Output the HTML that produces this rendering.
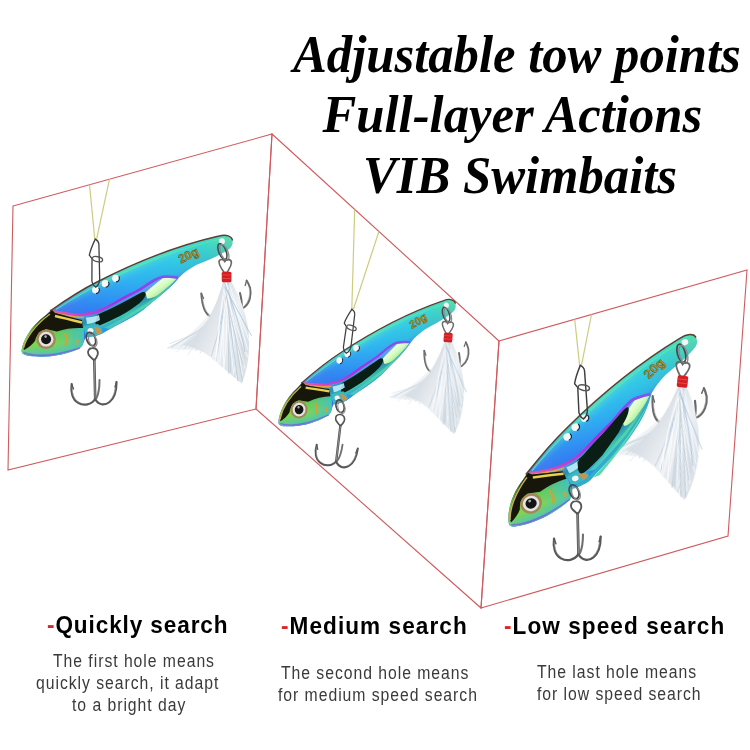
<!DOCTYPE html>
<html>
<head>
<meta charset="utf-8">
<style>
html,body{margin:0;padding:0;background:#fff;}
body{width:750px;height:750px;position:relative;overflow:hidden;}
.t{position:absolute;white-space:nowrap;font-family:"Liberation Serif",serif;font-style:italic;font-weight:bold;font-size:50.7px;line-height:1;color:#000;transform-origin:0 0;transform:scaleY(1.06);}
.h{position:absolute;white-space:nowrap;font-family:"Liberation Sans",sans-serif;font-weight:bold;font-size:24px;letter-spacing:1.14px;line-height:1;color:#000;transform-origin:0 0;transform:scaleX(0.94);}
.h b{color:#d8262a;}
.p{position:absolute;white-space:nowrap;font-family:"Liberation Sans",sans-serif;font-size:17.5px;letter-spacing:1.07px;line-height:1;color:#3a3a3a;transform-origin:0 0;transform:scaleX(0.9);}
svg{position:absolute;left:0;top:0;}
</style>
</head>
<body>
<svg width="750" height="750" viewBox="0 0 750 750">
<defs>

<g id="body">
  <!-- silhouette -->
  <path d="M21.6,351 C22,343 30,326 46,315 C48,313 50,311.5 52,310 C70,297 85,288 97,282 C130,265 175,246 219,236 C226,234 232,236 232.5,240.5 C233,245 231.5,247.5 228.5,249.5 C223,253.5 210,259.5 196,265 C190,268.5 184,272 179,277.5 C174,284 166,291 159,296.7 C152,302 148,306 143,310 C136,315 130,318.5 123,322 C115,326 108,330 103,333 C99,335.5 92,336.5 86,337 C84,340 83.5,344 82,346 C78,350 70,352.5 60,354.8 C50,357 38,357 30,356 C25,355.5 21.5,354 21.6,351 Z" fill="url(#gBody)"/>
  <!-- cross overlay: green near back edge -->
  <path d="M52,310 C70,297 85,288 97,282 C130,265 175,246 219,236 C226,234 232,236 232.5,240.5 C233,245 231.5,247.5 228.5,249.5 C223,253.5 210,259.5 196,265 C190,268.5 184,272 179,277.5 L178,277.6 C173,277 168,276.2 162.7,276.7 C160,277 157.5,278.5 154.7,280 C150,282.5 146,285.5 140,289.3 C134,293 127,296 120,300 C114,303.5 107,307.5 100,310.7 C94,313 88,314.4 80,314.7 C72,315 62,313 50,310.8 Z" fill="url(#gCross)"/>
  <!-- keel -->
  <path d="M50,310.8 C62,313 72,315 80,314.7 C88,314.4 94,313 100,310.7 C107,307.5 114,303.5 120,300 C127,296 134,293 140,289.3 C146,285.5 150,282.5 154.7,280 C157.5,278.5 160,277 162.7,276.7 C168,276.2 173,277 178,277.6 L179,277.5 C174,284 166,291 159,296.7 C152,302 148,306 143,310 C136,315 130,318.5 123,322 C115,326 108,330 103,333 C99,335.5 92,336.5 86,337 L82,320 Z" fill="url(#gKeel)"/>
  <path d="M97,315 C105,311.5 112,308 120,304 C127,300.5 134,296.5 140,293.3 C142.5,292 144.5,291.5 145.5,293 C146.5,295 144,299 140,302.7 C134,307.5 127,312 120,316 C113,319.5 106,323 100,325.3 C97,326.5 95,325 95.5,322 Z" fill="#0a1e16"/>
  <path d="M145.5,292.5 C150,288.5 156,283.5 162.7,278.3 C168,277.3 173,277.8 177,278.3 C172,284 165,290 158,295 C154,297.5 150,299 147,298.5 Z" fill="url(#gHi)"/>
  <path d="M104,328 C125,318 148,304 172,284 L176,280.5 C160,298 140,312 110,329 Z" fill="#60e0a8" opacity="0.6"/>
  <path d="M86,317.5 C90,317.5 95,316.5 99,315 L100,320 C96,322 92,323.5 87,324 Z" fill="#c8f6ff" opacity="0.85"/>
  <path d="M84,326 L98,324 C101,327 103,331 103,333 C99,335.5 92,336.5 86,337 Z" fill="#3ab8c8"/>
  <ellipse cx="90.5" cy="330.5" rx="3" ry="2.6" fill="#f4f4f4"/>
  <path d="M94,327 C98,326 101,329 102,333 L97,335 Z" fill="#d89040" opacity="0.85"/>
  <!-- band (orange/purple) -->
  <path d="M50,310.8 C62,313 72,315 80,314.7 C88,314.4 94,313 100,310.7 C107,307.5 114,303.5 120,300 C127,296 134,293 140,289.3 C146,285.5 150,282.5 154.7,280 C157.5,278.5 160,277 162.7,276.7 C168,276.2 173,277 178,277.6" fill="none" stroke="url(#gBand)" stroke-width="2.6"/>
  <path d="M54,313.2 C64,315 74,317.5 84,317.5" fill="none" stroke="#f0a030" stroke-width="1.6" opacity="0.9"/>
  <!-- head -->
  <path d="M21.6,351 C22,343 30,326 46,315 C48,313 50,311.5 52,310 L55,313 C64,315.5 74,318 82,320 L84,330 C84,336 84,342 82,346 C78,350 70,352.5 60,354.8 C50,357 38,357 30,356 C25,355.5 21.5,354 21.6,351 Z" fill="url(#gHead)"/>
  <path d="M52,310 L55,313 C64,315.5 74,318 82,320 L84,330 C84,336 84,342 82,346 C78,350 70,352.5 55,356 Z" fill="url(#gHeadX)"/>
  <path d="M23.5,348 C26,337 35,324 48,314 L52,310 L55,313 C64,315.5 74,318 82,320 L83,328 C75,327.5 65,328.5 57,331.5 L46,329 C40,331 36,336 35,341 C32,345 28,348 24,350 Z" fill="#16160a"/>
  <path d="M23.5,352.5 C35,357 55,356 80,348" fill="none" stroke="#7a60e0" stroke-width="1.5" opacity="0.8"/>
  <path d="M23.5,348 C26,338 35,325 50,314" fill="none" stroke="#c8b050" stroke-width="1.4"/>
  <path d="M55,316 C64,318 74,320.5 82,322.5" fill="none" stroke="#e8d050" stroke-width="2.6"/>
  <path d="M65,333 C67,337 67,342 65,346" fill="none" stroke="#d8a030" stroke-width="2"/>
  <path d="M77,339 C78,341 78,343 77,345" fill="none" stroke="#d8a030" stroke-width="1.8"/>
  <circle cx="46.1" cy="339.2" r="9.8" fill="#a08858"/>
  <circle cx="46.1" cy="339.2" r="7.4" fill="#e6e4e0"/>
  <circle cx="46.1" cy="339.2" r="5" fill="#141414"/>
  <circle cx="45.6" cy="336.6" r="1.3" fill="#aaa"/>
  <!-- back edge -->
  <path d="M50,311 C70,297 85,288 97,282 C130,265 175,246 219,236 C226,234 232,236 232.5,240.5" fill="none" stroke="#5a4032" stroke-width="1.4"/>
  <path d="M56,309.5 C72,299 86,291 98,285 C130,268 175,249.5 219,239.5" fill="none" stroke="#60e8a0" stroke-width="1.2" opacity="0.8"/>
  <!-- holes -->
  <g fill="#f6f6f6">
    <circle cx="95.7" cy="290" r="3.6"/>
    <circle cx="105.3" cy="283.7" r="3.6"/>
    <circle cx="115.7" cy="278.3" r="3.6"/>
  </g>
  <g fill="none" stroke="#14283a" stroke-width="1.1">
    <path d="M98.8,288 A3.6,3.6 0 0 1 96,293.6"/>
    <path d="M108.4,281.7 A3.6,3.6 0 0 1 105.6,287.3"/>
    <path d="M118.8,276.3 A3.6,3.6 0 0 1 116,281.9"/>
  </g>
  <!-- tail hole -->
  <circle cx="221.9" cy="241.2" r="3" fill="#f4f4f4"/>
  <!-- 20g -->
  <text x="0" y="0" transform="translate(181,263.5) rotate(-26)" font-family="Liberation Sans" font-weight="bold" font-size="12" fill="#b89a30" stroke="#6a5010" stroke-width="0.5" letter-spacing="0.1">20g</text>
</g>


<g id="keel3ext">
  <path d="M179,277.5 C174,286 168,294 161,300 C154,306 149,310.5 143,314.5 C136,319 130,322 123,325.5 C115,330 108,334 103,337 C99,339 92,339.5 86,339.5 L86,330 L140,300 Z" fill="#30b0c8"/>
  <path d="M106,335.5 C125,325 148,310 174,285.5 L176.5,282 C162,300 142,316 112,335.5 Z" fill="#5ad8b0"/>
</g>
<g id="keel3dark">
  <path d="M97,316.5 C105,311 112,306.5 120,302 C130,296.5 140,290 149,284.5 C152,282.5 154.5,281.5 155.5,282.5 C156,285 153,289.5 149,293.5 C141,301.5 131,310 120,318 C113,322 106,325.5 100,328 C97,329 95,327.5 95.5,323.5 Z" fill="#0a1e16"/>
</g>


<g id="front" fill="none" stroke-linecap="round">
  <ellipse cx="-1.5" cy="-15" rx="4.3" ry="7" stroke="#4a4a4a" stroke-width="1.8" transform="rotate(-22 -1.5 -15)"/>
  <ellipse cx="0.3" cy="-13.5" rx="3.8" ry="6.3" stroke="#8a8a8a" stroke-width="1.2" transform="rotate(-22 0.3 -13.5)"/>
  <path d="M0,-6 C4,-6.2 6,-3 5.2,0.5 C4.5,3 3,5 1.8,6.5 C0.5,5 -2.5,3 -4,0.5 C-5.5,-3 -3.5,-6 0,-6 Z" stroke="#555" stroke-width="1.8"/>
  <path d="M1.8,6 L2.7,45" stroke="#555" stroke-width="2.6"/>
  <path d="M1.9,7 L2.6,44" stroke="#a8a8a8" stroke-width="0.7"/>
  <path d="M2.6,45 C-1,51 -9,52 -14,49 C-20,46 -22,38 -20.8,30" stroke="#585858" stroke-width="2.2"/>
  <path d="M2.6,45 C6,51 12,52 17,48 C22,44 24,36 24,28" stroke="#585858" stroke-width="2.2"/>
  <path d="M-13.5,48.2 C-19,45.5 -21,38 -20,31" stroke="#b0b0b0" stroke-width="0.6"/>
  <path d="M16.5,47.3 C21,43.5 23,36 23.2,29" stroke="#b0b0b0" stroke-width="0.6"/>
  <path d="M4,44 C6,40 7,34 7,26" stroke="#707070" stroke-width="2"/>
  <path d="M-20.8,30 L-19,35" stroke="#585858" stroke-width="1.4"/>
  <path d="M24,28 L22.5,33" stroke="#585858" stroke-width="1.4"/>
</g>


<g id="rear" stroke-linecap="round">
  <!-- hooks (behind feather) -->
  <g fill="none" stroke="#6a6a6a" stroke-width="2">
    <path d="M-2,37 C-6,40 -12,41 -16,39.5 C-22,37 -24.5,28 -25.3,16.5"/>
    <path d="M2,35 C8,34 14,33 18,30 C23,26 25,18 23.5,11 C22.5,8 21.5,5.5 20,3.5"/>
    <path d="M13.4,16 C15,22 15.5,27 15,31"/>
    <path d="M0.5,5 L0,37"/>
  </g>
  <g fill="none" stroke="#b8b8b8" stroke-width="0.6">
    <path d="M-15.5,38.5 C-21,36 -23.5,28 -24.3,17"/>
    <path d="M17.5,29 C22,25 24,18 22.6,11"/>
  </g>
  <path d="M-25.3,16.5 L-23,21.5" stroke="#6a6a6a" stroke-width="1.3"/>
  <path d="M20,3.5 L18.6,8.5" stroke="#6a6a6a" stroke-width="1.3"/>
  <g filter="url(#soft)">
  <!-- feather wisps -->
  <path d="M-10,28 C-22,44 -38,60 -58,72 C-46,73 -34,72 -22,74 C-18,62 -12,46 -6,34 Z" fill="#e6ebef" opacity="0.6"/>
  <g stroke-width="0.8" fill="none" opacity="0.95">
    <path d="M-8.4,43.8 Q-34.4,57.5 -58.8,71.2" stroke="#c4d2de"/>
    <path d="M-5.8,44.5 Q-27.7,55.5 -56.7,66.6" stroke="#d4dde4"/>
    <path d="M-8.7,39.3 Q-28.9,54.8 -55.3,70.3" stroke="#c4d2de"/>
    <path d="M-3.9,24.9 Q-22.5,49.8 -50.1,74.8" stroke="#e2e8ed"/>
    <path d="M-5.9,28.9 Q-20.1,49.2 -46.3,69.5" stroke="#d4dde4"/>
    <path d="M-8.5,35.1 Q-24.1,53.7 -42.9,72.3" stroke="#c4d2de"/>
    <path d="M-2.4,29.1 Q-21.8,53.4 -38.9,77.7" stroke="#e2e8ed"/>
    <path d="M-6.1,44.6 Q-20.6,58.1 -38.6,71.5" stroke="#d4dde4"/>
    <path d="M-9.3,36.5 Q-17.6,56.5 -34.5,76.5" stroke="#ffffff"/>
    <path d="M-8.6,39.7 Q-21.0,56.6 -30.8,73.5" stroke="#c4d2de"/>
    <path d="M-6.3,38.6 Q-12.6,57.4 -26.6,76.3" stroke="#d4dde4"/>
    <path d="M-8.8,42.6 Q-15.6,56.6 -28.1,70.7" stroke="#e2e8ed"/>
    <path d="M-2.5,23.9 Q-14.3,49.2 -22.5,74.4" stroke="#e2e8ed"/>
    <path d="M-9.2,38.7 Q-12.2,58.0 -18.2,77.3" stroke="#e2e8ed"/>
  </g>
  <!-- feather main -->
  <path d="M-3.5,4.5 C-6,14 -10,26 -16,38 C-22,50 -32,60 -44,68 C-34,70 -24,73 -14,82 C-4,90 6,99 15,106.5 C20,96 23,80 22.5,62 C22,42 14,20 4.5,4.5 Z" fill="url(#gFeather)"/>
  <g stroke-width="0.75" fill="none" opacity="0.95">
    <path d="M-0.2,10.3 Q-4.2,44.6 -15.1,78.9" stroke="#b8c8d4"/>
    <path d="M-0.2,11.7 Q-3.6,45.9 -11.2,80.0" stroke="#ffffff"/>
    <path d="M0.7,11.1 Q-5.9,47.3 -9.9,83.4" stroke="#9fc0dc"/>
    <path d="M-0.6,8.5 Q-9.2,47.2 -10.9,85.8" stroke="#ffffff"/>
    <path d="M-2.0,6.9 Q-9.0,46.9 -9.0,87.0" stroke="#ffffff"/>
    <path d="M1.4,9.5 Q-4.5,48.0 -6.9,86.5" stroke="#ffffff"/>
    <path d="M-0.4,9.7 Q1.9,51.1 -2.9,92.6" stroke="#ffffff"/>
    <path d="M-0.5,9.3 Q-5.2,49.9 -2.7,90.5" stroke="#ffffff"/>
    <path d="M1.7,5.9 Q1.2,51.2 2.2,96.5" stroke="#b8c8d4"/>
    <path d="M2.5,8.5 Q2.8,51.6 3.9,94.8" stroke="#b8c8d4"/>
    <path d="M0.5,11.2 Q7.3,52.7 8.2,94.3" stroke="#ffffff"/>
    <path d="M-1.0,7.9 Q5.7,52.6 9.4,97.3" stroke="#9fc0dc"/>
    <path d="M-0.4,6.6 Q0.7,52.3 7.1,97.9" stroke="#ffffff"/>
    <path d="M-1.2,6.6 Q7.0,55.2 10.0,103.7" stroke="#ffffff"/>
    <path d="M-1.5,7.0 Q4.2,55.4 11.2,103.9" stroke="#b8c8d4"/>
    <path d="M-0.5,9.0 Q9.2,56.6 15.8,104.2" stroke="#b8c8d4"/>
    <path d="M0.3,9.3 Q7.8,53.6 16.0,98.0" stroke="#ffffff"/>
    <path d="M2.3,11.7 Q7.2,53.0 13.8,94.4" stroke="#c8d2da"/>
    <path d="M-0.3,5.7 Q5.4,48.5 18.2,91.4" stroke="#ffffff"/>
    <path d="M-2.1,6.5 Q4.2,47.2 16.7,87.9" stroke="#b8c8d4"/>
    <path d="M0.8,5.7 Q6.7,43.8 18.2,81.8" stroke="#c8d2da"/>
    <path d="M-1.9,7.5 Q6.1,43.7 21.0,79.8" stroke="#ffffff"/>
    <path d="M-1.4,7.6 Q12.1,41.1 18.4,74.6" stroke="#9fc0dc"/>
    <path d="M0.8,8.3 Q13.6,40.2 20.8,72.1" stroke="#ffffff"/>
    <path d="M3.0,8.3 Q11.3,36.2 22.7,64.1" stroke="#ffffff"/>
    <path d="M-1.7,10.2 Q11.4,34.5 24.9,58.7" stroke="#9fc0dc"/>
  </g>
  </g>
</g>


<g id="rearf" stroke-linecap="round">
  <!-- ring & eye -->
  <ellipse cx="-4.2" cy="-25.5" rx="3.6" ry="8.4" fill="none" stroke="#4a4a4a" stroke-width="1.6" transform="rotate(-22 -4.2 -25.5)"/>
  <ellipse cx="-2.2" cy="-24.6" rx="3.6" ry="8.4" fill="none" stroke="#8a8a8a" stroke-width="1.3" transform="rotate(-22 -2.2 -24.6)"/>
  <path d="M-7.5,-14.5 C-8,-18 -3.5,-18.5 -1.8,-15.5 C0,-18.5 5,-18 4.8,-14 C4.6,-10.5 2,-7.5 0.5,-4.5 L-2.5,-4.5 C-4.5,-7.5 -7.2,-11 -7.5,-14.5 Z" fill="none" stroke="#6a6a6a" stroke-width="1.6"/>
  <!-- red wrap -->
  <rect x="-4.8" y="-5.3" width="9.6" height="10.6" rx="1.5" fill="#d21f24"/>
  <path d="M-4.5,-2 L4.5,-2 M-4.5,1.5 L4.5,1.5" stroke="#f04848" stroke-width="0.8"/>
</g>


<g id="snap" fill="none" stroke="#3e3e3e" stroke-width="1.3" stroke-linecap="round" stroke-linejoin="round">
  <path d="M0,0 C-2,4 -5,11 -6,15.6 L-3.3,19 L-3.4,41 C-2.5,44 -1,46 0.5,46.5"/>
  <path d="M0,0 C2,1 3.4,3 3.6,5 L4.4,39.4 C4,43 2.5,45.5 0.5,46.5"/>
  <ellipse cx="2.2" cy="19.5" rx="5.2" ry="2.4" transform="rotate(12 2.2 19.5)" stroke="#555"/>
</g>

</defs>

<defs>
  <filter id="soft" x="-20%" y="-20%" width="140%" height="140%"><feGaussianBlur stdDeviation="0.28"/></filter>
  <linearGradient id="gFeather" gradientUnits="userSpaceOnUse" x1="-20" y1="40" x2="22" y2="60">
    <stop offset="0" stop-color="#d8dfe5"/>
    <stop offset="0.5" stop-color="#eef1f4"/>
    <stop offset="1" stop-color="#dbe2e8"/>
  </linearGradient>
  <linearGradient id="gBody" gradientUnits="userSpaceOnUse" x1="50" y1="320" x2="232" y2="245">
    <stop offset="0" stop-color="#4a5cf0"/>
    <stop offset="0.2" stop-color="#2f80f2"/>
    <stop offset="0.45" stop-color="#2caef2"/>
    <stop offset="0.7" stop-color="#30cce2"/>
    <stop offset="0.86" stop-color="#3ad8c4"/>
    <stop offset="1" stop-color="#5ae6a4"/>
  </linearGradient>
  <linearGradient id="gCross" gradientUnits="userSpaceOnUse" x1="130" y1="268" x2="142" y2="295">
    <stop offset="0" stop-color="#58e8c8" stop-opacity="0.75"/>
    <stop offset="0.35" stop-color="#40c8f0" stop-opacity="0.2"/>
    <stop offset="0.8" stop-color="#3a70f0" stop-opacity="0.2"/>
    <stop offset="1" stop-color="#7050f0" stop-opacity="0.55"/>
  </linearGradient>
  <linearGradient id="gKeel" gradientUnits="userSpaceOnUse" x1="124" y1="298" x2="132" y2="318">
    <stop offset="0" stop-color="#58a0f0"/>
    <stop offset="0.35" stop-color="#2a8ab0"/>
    <stop offset="0.75" stop-color="#3cc8b0"/>
    <stop offset="1" stop-color="#2a98e0"/>
  </linearGradient>
  <linearGradient id="gHi" gradientUnits="userSpaceOnUse" x1="150" y1="284" x2="160" y2="298">
    <stop offset="0" stop-color="#f4fff4"/>
    <stop offset="0.5" stop-color="#d8fcc0"/>
    <stop offset="1" stop-color="#90e890"/>
  </linearGradient>
  <linearGradient id="gBand" gradientUnits="userSpaceOnUse" x1="52" y1="312" x2="177" y2="277">
    <stop offset="0" stop-color="#e8609a"/>
    <stop offset="0.2" stop-color="#d040c8"/>
    <stop offset="0.5" stop-color="#a030e8"/>
    <stop offset="1" stop-color="#7a5af0"/>
  </linearGradient>
  <linearGradient id="gHead" gradientUnits="userSpaceOnUse" x1="50" y1="316" x2="52" y2="358">
    <stop offset="0" stop-color="#3a6a20"/>
    <stop offset="0.4" stop-color="#6ccc48"/>
    <stop offset="0.65" stop-color="#84d44c"/>
    <stop offset="0.88" stop-color="#58c8a0"/>
    <stop offset="1" stop-color="#5080e0"/>
  </linearGradient>
  <linearGradient id="gHeadX" gradientUnits="userSpaceOnUse" x1="52" y1="0" x2="84" y2="0">
    <stop offset="0" stop-color="#40c8c8" stop-opacity="0"/>
    <stop offset="1" stop-color="#38c0d8" stop-opacity="0.8"/>
  </linearGradient>
</defs>

  <g fill="none" stroke="#d05a5e" stroke-width="1.1">
    <polygon points="13,206 272,134 256,409 8,470"/>
    <polygon points="272,134 499,341 481,608 256,409"/>
    <polygon points="499,341 747,270 728,536 481,608"/>
  </g>
<line x1="94.8" y1="239.2" x2="89.5" y2="184.6" stroke="#cccc80" stroke-width="1.2"/>
<line x1="96.6" y1="239.2" x2="109.5" y2="179.2" stroke="#cccc80" stroke-width="1.2"/>
<use href="#rear" transform="translate(226.6,277)"/>
<use href="#body" transform="matrix(1,0,0,1,0,0)"/>
<use href="#rearf" transform="translate(226.6,277)"/>
<use href="#front" transform="translate(92.5,354)"/>
<use href="#snap" transform="translate(95.3,239.1) scale(1,1.03)"/>
<line x1="351.8" y1="309.4" x2="354.7" y2="209.4" stroke="#cccc80" stroke-width="1.2"/>
<line x1="353.5" y1="309" x2="378.9" y2="231.5" stroke="#cccc80" stroke-width="1.2"/>
<use href="#rear" transform="translate(448.1,337.6) scale(0.9) rotate(4.5)"/>
<use href="#body" transform="matrix(0.8674,-0.0842,0.0532,0.9142,241.07,103.39)"/>
<use href="#rearf" transform="translate(448.1,337.6) scale(0.9) rotate(4.5)"/>
<use href="#front" transform="translate(339.5,420) scale(0.92) rotate(8)"/>
<use href="#snap" transform="translate(352,309.2) scale(0.95) rotate(8)"/>
<line x1="579.6" y1="365.4" x2="574.7" y2="319.3" stroke="#cccc80" stroke-width="1.2"/>
<line x1="581.5" y1="365.2" x2="591.5" y2="314.5" stroke="#cccc80" stroke-width="1.2"/>
<use href="#rear" transform="translate(682.5,381.6) scale(1.1) rotate(7)"/>
<use href="#keel3ext" transform="matrix(1.0594,-0.3737,0.3304,0.9750,370.18,189.94)"/>
<use href="#body" transform="matrix(1.0594,-0.3737,0.3304,0.9750,370.18,189.94)"/>
<use href="#keel3dark" transform="matrix(1.0594,-0.3737,0.3304,0.9750,370.18,189.94)"/>
<use href="#rearf" transform="translate(682.5,381.6) scale(1.1) rotate(7)"/>
<use href="#front" transform="translate(575.7,507.4) scale(1.04)"/>
<use href="#snap" transform="translate(580.3,365.4) scale(1.1,1.15) rotate(-3)"/>

</svg>

<div class="t" id="t1" style="left:293px;top:26.8px">Adjustable tow points</div>
<div class="t" id="t2" style="left:322.5px;top:87.4px">Full-layer Actions</div>
<div class="t" id="t3" style="left:363px;top:148.2px">VIB Swimbaits</div>

<div class="h" id="h1" style="left:47px;top:613px;letter-spacing:0.95px"><b>-</b>Quickly search</div>
<div class="h" id="h2" style="left:280.7px;top:614px"><b>-</b>Medium search</div>
<div class="h" id="h3" style="left:504px;top:614px"><b>-</b>Low speed search</div>

<div class="p" id="p1" style="left:53px;top:653px">The first hole means</div>
<div class="p" id="p2" style="left:36px;top:675px">quickly search, it adapt</div>
<div class="p" id="p3" style="left:72px;top:697px">to a bright day</div>
<div class="p" id="p4" style="left:281px;top:665px">The second hole means</div>
<div class="p" id="p5" style="left:278px;top:687px">for medium speed search</div>
<div class="p" id="p6" style="left:537px;top:664px">The last hole means</div>
<div class="p" id="p7" style="left:537px;top:686px">for low speed search</div>
</body>
</html>
